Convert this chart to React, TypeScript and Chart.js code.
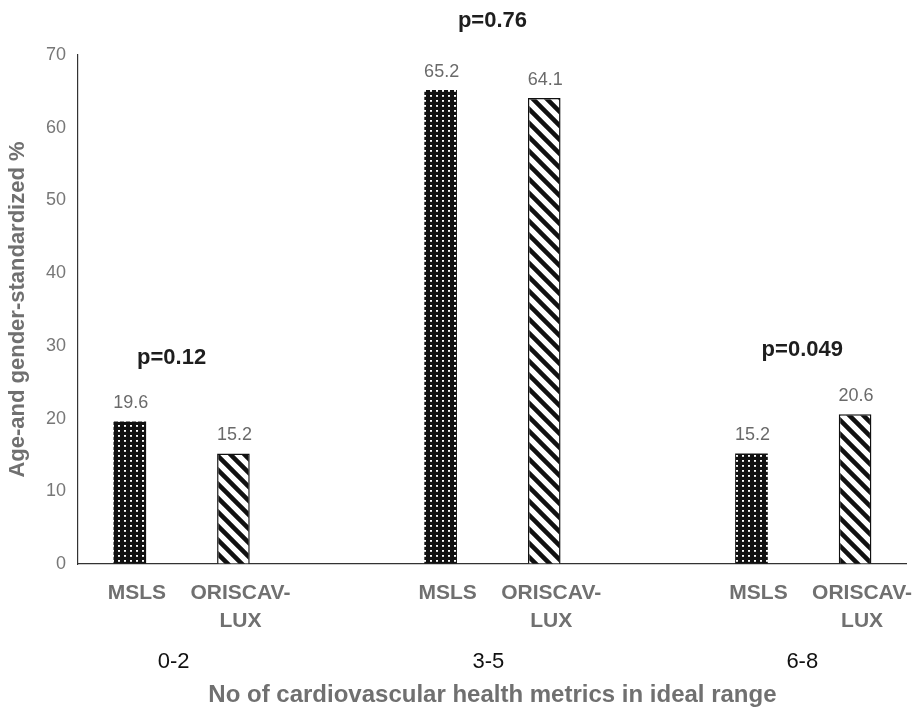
import React, { useEffect, useRef } from "react";
import { Chart, registerables } from "chart.js";

Chart.register(...registerables);

const groups = ["0-2", "3-5", "6-8"];
const mslsLabel = ["MSLS"];
const oriscavLabel = ["ORISCAV-", "LUX"];
const mslsValues = [19.6, 65.2, 15.2];
const oriscavValues = [15.2, 64.1, 20.6];
const pLabels = ["p=0.12", "p=0.76", "p=0.049"];
const pHeights = [28.3, 74.7, 29.4];
const yTicks = [0, 10, 20, 30, 40, 50, 60, 70];

const FONT = "'Liberation Sans', Arial, Helvetica, sans-serif";
const GRAY = "#707070";

function dotPattern(): CanvasPattern | string {
  const c = document.createElement("canvas");
  c.width = 6;
  c.height = 5;
  const x = c.getContext("2d");
  if (!x) return "#000";
  x.fillStyle = "#111";
  x.fillRect(0, 0, 6, 5);
  x.fillStyle = "#fff";
  x.fillRect(2, 2, 2, 1.8);
  return x.createPattern(c, "repeat") || "#000";
}

function stripePattern(): CanvasPattern | string {
  const s = 14;
  const c = document.createElement("canvas");
  c.width = s;
  c.height = s;
  const x = c.getContext("2d");
  if (!x) return "#fff";
  x.fillStyle = "#fff";
  x.fillRect(0, 0, s, s);
  x.strokeStyle = "#111";
  x.lineWidth = 4.5;
  x.beginPath();
  x.moveTo(-2, -2);
  x.lineTo(s + 2, s + 2);
  x.moveTo(-2 - s, -2);
  x.lineTo(2, s + 2);
  x.moveTo(s - 2, -2);
  x.lineTo(2 * s + 2, s + 2);
  x.stroke();
  return x.createPattern(c, "repeat") || "#fff";
}

export default function App() {
  const ref = useRef<HTMLCanvasElement | null>(null);

  useEffect(() => {
    document.documentElement.style.overflow = "hidden";
    document.body.style.overflow = "hidden";
    if (!ref.current) return;
    const labels: (string | string[])[] = [];
    const msls: (number | null)[] = [];
    const oris: (number | null)[] = [];
    groups.forEach((g, i) => {
      labels.push(mslsLabel);
      labels.push(oriscavLabel);
      msls.push(mslsValues[i], null);
      oris.push(null, oriscavValues[i]);
      if (i < groups.length - 1) {
        labels.push("");
        msls.push(null);
        oris.push(null);
      }
    });

    const annot = {
      id: "annot",
      afterDatasetsDraw(chart: any) {
        const ctx = chart.ctx;
        ctx.save();
        ctx.font = `18px ${FONT}`;
        ctx.fillStyle = "#6a6a6a";
        ctx.textAlign = "center";
        ctx.textBaseline = "alphabetic";
        chart.data.datasets.forEach((ds: any, di: number) => {
          const meta = chart.getDatasetMeta(di);
          meta.data.forEach((el: any, j: number) => {
            const v = ds.data[j];
            if (v === null || v === undefined) return;
            ctx.fillText(String(v), el.x + 1, el.y - 13);
          });
        });
        const xs = chart.scales.x;
        const ys = chart.scales.y;
        ctx.font = `bold 22px ${FONT}`;
        ctx.fillStyle = "#1e1e1e";
        ctx.textBaseline = "middle";
        const offs = [-10, 0, -1];
        groups.forEach((g, i) => {
          const cx = (xs.getPixelForValue(i * 3) + xs.getPixelForValue(i * 3 + 1)) / 2;
          ctx.fillText(pLabels[i], cx + offs[i], ys.getPixelForValue(pHeights[i]));
        });
        ctx.font = `22px ${FONT}`;
        ctx.fillStyle = "#111";
        const goffs = [-8, -4, -1];
        groups.forEach((g, i) => {
          const cx = (xs.getPixelForValue(i * 3) + xs.getPixelForValue(i * 3 + 1)) / 2;
          ctx.fillText(g, cx + goffs[i], xs.top + 98);
        });
        ctx.restore();
      },
    };

    const chart = new Chart(ref.current, {
      type: "bar",
      data: {
        labels,
        datasets: [
          {
            label: "MSLS",
            data: msls,
            backgroundColor: dotPattern() as any,
            borderColor: "#111",
            borderWidth: 0,
            grouped: false,
            skipNull: true,
          } as any,
          {
            label: "ORISCAV-LUX",
            data: oris,
            backgroundColor: stripePattern() as any,
            borderColor: "#111",
            borderWidth: 1.5,
            grouped: false,
            skipNull: true,
          } as any,
        ],
      },
      options: {
        animation: false,
        responsive: true,
        maintainAspectRatio: false,
        layout: { padding: { top: 47, right: 15, left: 0, bottom: 0 } },
        datasets: { bar: { barPercentage: 0.315, categoryPercentage: 1 } },
        plugins: {
          legend: { display: false },
          tooltip: { enabled: false },
        },
        scales: {
          x: {
            grid: { display: true, drawOnChartArea: false, drawTicks: false, color: "transparent" },
            border: { display: true, color: "#333", width: 1.2 },
            ticks: {
              color: GRAY,
              font: { family: FONT, size: 21, weight: "bold", lineHeight: 1.3 },
              padding: 16,
              labelOffset: 7,
              autoSkip: false,
              maxRotation: 0,
            },
            title: {
              display: true,
              text: "No of cardiovascular health metrics in ideal range",
              color: GRAY,
              font: { family: FONT, size: 24, weight: "bold", lineHeight: 1.2 },
              padding: { top: 0, bottom: 1 },
            },
            afterFit: (s: any) => {
              s.height = 147;
            },
          },
          y: {
            min: 0,
            max: 70,
            afterBuildTicks: (s: any) => {
              s.ticks = yTicks.map((v) => ({ value: v }));
            },
            grid: { display: true, drawOnChartArea: false, drawTicks: false, color: "transparent" },
            border: { display: true, color: "#333", width: 1.2 },
            ticks: {
              color: "#777",
              font: { family: FONT, size: 18 },
              padding: 12,
            },
            title: {
              display: true,
              text: "Age-and gender-standardized %",
              color: GRAY,
              font: { family: FONT, size: 22, weight: "bold", lineHeight: 0.9 },
              padding: { top: 0, bottom: 0 },
            },
            afterFit: (s: any) => {
              s.width = 70;
            },
          },
        },
      },
      plugins: [annot],
    });
    return () => chart.destroy();
  }, []);

  return (
    <div style={{ width: 914, height: 703, position: "fixed", left: 8, top: 8 }}>
      <canvas ref={ref} />
    </div>
  );
}
